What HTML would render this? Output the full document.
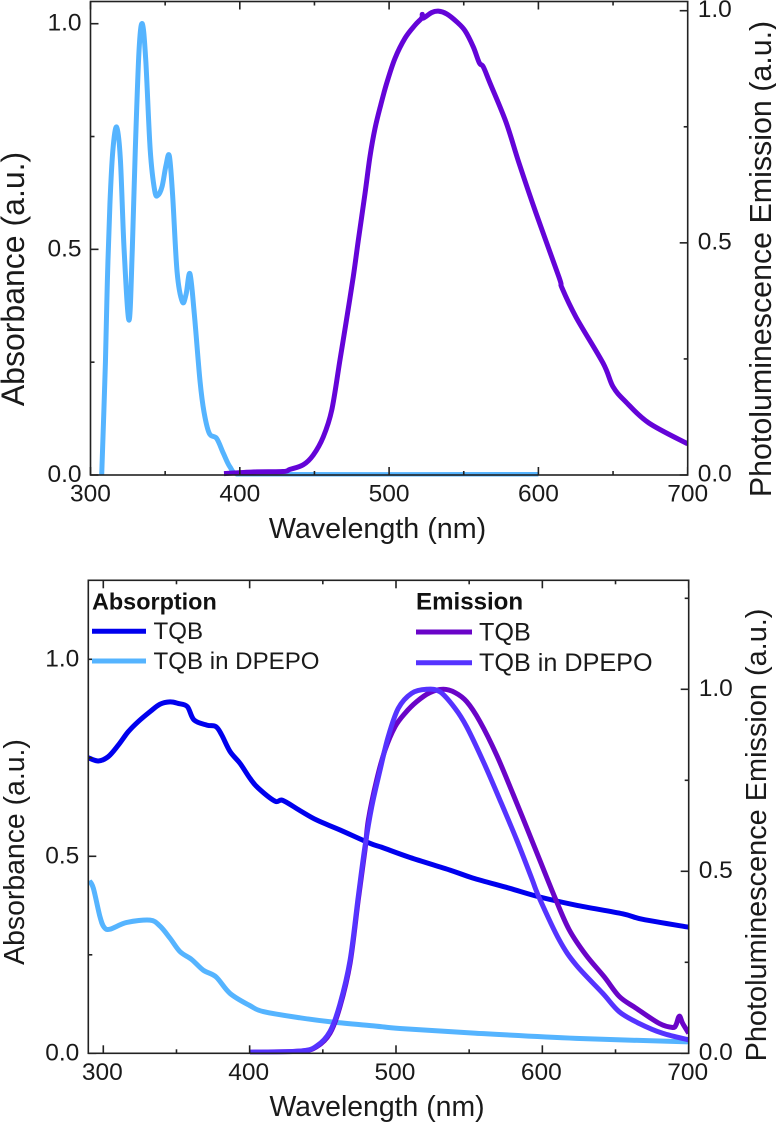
<!DOCTYPE html>
<html lang="en">
<head>
<meta charset="utf-8">
<title>TQB absorbance and photoluminescence spectra</title>
<style>
html,body{margin:0;padding:0;background:#fff;width:776px;height:1123px;overflow:hidden}
svg{display:block;font-family:"Liberation Sans",sans-serif;fill:#1a1a1a}
</style>
</head>
<body>
<svg id="fig" width="776" height="1123" viewBox="0 0 776 1123" xmlns="http://www.w3.org/2000/svg">
  <defs>
    <clipPath id="clipTop"><rect x="90.5" y="1.5" width="597.2" height="475"/></clipPath>
    <clipPath id="clipBot"><rect x="88.3" y="580.3" width="600.4" height="474"/></clipPath>
  </defs>
  <g id="top-marks" clip-path="url(#clipTop)"></g>
  <g id="bot-marks" clip-path="url(#clipBot)"></g>
  <g id="axes"></g>

  <text x="377.5" y="538" font-size="28.7" text-anchor="middle">Wavelength (nm)</text>
  <text transform="translate(24,279) rotate(-90)" font-size="32" text-anchor="middle">Absorbance (a.u.)</text>
  <text transform="translate(771,259) rotate(-90)" font-size="30.4" text-anchor="middle">Photoluminescence Emission (a.u.)</text>

  <text x="377" y="1116" font-size="28.4" text-anchor="middle">Wavelength (nm)</text>
  <text transform="translate(24,852) rotate(-90)" font-size="28.4" text-anchor="middle">Absorbance (a.u.)</text>
  <text transform="translate(766,835) rotate(-90)" font-size="28.9" text-anchor="middle">Photoluminescence Emission (a.u.)</text>

  <g>
    <text x="92" y="609.3" font-size="23.4" font-weight="bold" fill="#111">Absorption</text>
    <line x1="92" x2="146" y1="631.3" y2="631.3" stroke="#0000ee" stroke-width="5"/>
    <text x="153.5" y="639" font-size="24.1">TQB</text>
    <line x1="92" x2="146" y1="661" y2="661" stroke="#55b4ff" stroke-width="5"/>
    <text x="153.5" y="669" font-size="24.1">TQB in DPEPO</text>
  </g>
  <g>
    <text x="416" y="609.3" font-size="24.1" font-weight="bold" fill="#111">Emission</text>
    <line x1="416" x2="472" y1="632" y2="632" stroke="#6a04c8" stroke-width="5"/>
    <text x="479" y="640.7" font-size="25.2">TQB</text>
    <line x1="416" x2="472" y1="662.7" y2="662.7" stroke="#5533ff" stroke-width="5"/>
    <text x="479" y="671" font-size="25.2">TQB in DPEPO</text>
  </g>
</svg>
<script>
// ---- Tick values and labels ----
const xMajorTicks = [300, 400, 500, 600, 700];
const xMinorTicks = [350, 450, 550, 650];
const yMajorTicks = [0, 0.5, 1.0];
const yMinorTicks = [0.25, 0.75];
const yMinorTicksRightBottom = [0.25, 0.75, 1.25];

// ---- Top chart series ----
const topAbsNm = [307.5,310,311.3,313,315,317.5,320,322.5,325.8,328,330,332.5,334.7,337,340,343,345.2,348,350.5,352.8,355,358,361.5,364,366.6,369.5,373.3,376,379.6,384.5,389,393.4,399,420,600];
const topAbsValues = [0,0.25,0.43,0.6,0.72,0.771,0.70,0.5,0.343,0.5,0.72,0.94,1.0,0.92,0.72,0.63,0.62,0.64,0.685,0.707,0.62,0.45,0.384,0.40,0.446,0.358,0.21,0.14,0.092,0.081,0.048,0.018,0.002,0.001,0.001];
const topEmNm = [389.4,408.8,428.9,433.6,442.5,449.2,455.9,461.6,467.1,471.1,476.0,479.4,483.9,487.2,490.6,494.4,498.4,503.9,510.7,517.4,521.8,522.2,522.9,528.5,533,538.6,545.3,550.8,556.4,560.4,563.1,567.6,578.3,587,598.4,613.8,615.8,625.2,643.3,650,658.7,674,700];
const topEmValues = [0.003,0.0065,0.0075,0.012,0.022,0.043,0.082,0.14,0.248,0.327,0.427,0.506,0.607,0.686,0.747,0.797,0.844,0.897,0.941,0.969,0.984,0.992,0.984,0.996,0.999,0.993,0.976,0.957,0.922,0.888,0.879,0.844,0.760,0.672,0.564,0.426,0.403,0.340,0.241,0.190,0.157,0.112,0.067];

// ---- Bottom chart series ----
const botAbsTqbNm = [289.8,296.6,303.4,310.2,317,323.9,331.9,338.7,345.6,351.2,357.4,362,370.7,377,380.9,386.6,393.4,400.2,405.9,417.3,422.6,434.4,445.8,461.7,482.2,490.9,509.6,536.9,552.4,577.4,597.9,623,654.9,668.6,700];
const botAbsTqbValues = [0.75,0.742,0.753,0.782,0.816,0.842,0.867,0.886,0.892,0.888,0.880,0.846,0.833,0.829,0.808,0.766,0.736,0.698,0.673,0.640,0.642,0.616,0.592,0.567,0.533,0.522,0.497,0.465,0.445,0.419,0.397,0.376,0.354,0.340,0.320];
const botAbsDpepoNm = [290.4,293.2,297.7,300.5,304.6,316,331.9,338.7,345.6,352.4,360.4,368.3,377,386.6,400.2,409.3,434.4,457.2,486.3,502.7,554.6,623,700];
const botAbsDpepoValues = [0.438,0.419,0.347,0.32,0.315,0.332,0.338,0.323,0.292,0.258,0.238,0.211,0.194,0.152,0.121,0.106,0.090,0.079,0.069,0.063,0.051,0.038,0.029];
const botEmTqbNm = [400.2,434.4,445.8,454.9,461.7,468.6,474.2,478.8,481.1,486.8,492.5,499.3,506.1,514.1,523.2,532.3,540.3,548.3,557.4,568.8,580.2,589.3,598.4,609.3,618.4,629.8,642.3,652.6,664,679.9,689,691.3,693.6,695.9,700];
const botEmTqbValues = [0.003,0.006,0.018,0.055,0.128,0.247,0.421,0.558,0.641,0.751,0.833,0.897,0.934,0.966,0.991,1.0,0.991,0.966,0.911,0.819,0.71,0.62,0.529,0.421,0.339,0.270,0.210,0.156,0.124,0.082,0.071,0.078,0.102,0.082,0.055];
const botEmDpepoNm = [400.2,434.4,445.8,454.9,461.7,468.6,474.2,478.8,483.4,489.1,494.7,501.6,510.7,521,530.1,540.3,548.3,559.7,571,582.5,592.7,598,611.6,623,641.2,652.6,666.2,682.2,700];
const botEmDpepoValues = [0.003,0.006,0.02,0.06,0.135,0.255,0.43,0.568,0.677,0.778,0.870,0.948,0.989,1.0,0.993,0.948,0.897,0.801,0.696,0.586,0.481,0.426,0.311,0.243,0.165,0.114,0.082,0.055,0.037];

const NS = 'http://www.w3.org/2000/svg';

function scale(d0, d1, p0, p1) {
  return function (v) { return p0 + (v - d0) * (p1 - p0) / (d1 - d0); };
}

// Axis scales for both panels
const topX = scale(300, 700, 90.5, 687.7);
const topYL = scale(0, 1, 475, 23.7);
const topYR = scale(0, 1, 475, 10.7);
const botX = scale(300, 700, 103.3, 688.7);
const botYL = scale(0, 1, 1053.3, 659.3);
const botYR = scale(0, 1, 1053.3, 689.3);

function smoothPath(xs, ys, fx, fy) {
  const p = xs.map(function (x, i) { return [fx(x), fy(ys[i])]; });
  let d = 'M' + p[0][0].toFixed(2) + ' ' + p[0][1].toFixed(2);
  for (let i = 0; i < p.length - 1; i++) {
    const a = p[Math.max(i - 1, 0)], b = p[i], c = p[i + 1], e = p[Math.min(i + 2, p.length - 1)];
    const c1x = b[0] + (c[0] - a[0]) / 6, c1y = b[1] + (c[1] - a[1]) / 6;
    const c2x = c[0] - (e[0] - b[0]) / 6, c2y = c[1] - (e[1] - b[1]) / 6;
    d += 'C' + c1x.toFixed(2) + ' ' + c1y.toFixed(2) + ' ' + c2x.toFixed(2) + ' ' + c2y.toFixed(2) + ' ' + c[0].toFixed(2) + ' ' + c[1].toFixed(2);
  }
  return d;
}

function drawSeries(parentId, seriesName, xs, ys, fx, fy, color, width) {
  const el = document.createElementNS(NS, 'path');
  
  
  el.setAttribute('d', smoothPath(xs, ys, fx, fy));
  el.setAttribute('fill', 'none');
  el.setAttribute('stroke', color);
  el.setAttribute('stroke-width', width);
  el.setAttribute('stroke-linejoin', 'round');
  document.getElementById(parentId).appendChild(el);
}

drawSeries('top-marks', 'top-absorbance-line', topAbsNm, topAbsValues, topX, topYL, '#55b4ff', 5);
drawSeries('top-marks', 'top-emission-line', topEmNm, topEmValues, topX, topYR, '#6404d8', 5);
drawSeries('bot-marks', 'absorbance-dpepo-line', botAbsDpepoNm, botAbsDpepoValues, botX, botYL, '#55b4ff', 5);
drawSeries('bot-marks', 'absorbance-tqb-line', botAbsTqbNm, botAbsTqbValues, botX, botYL, '#0000ee', 5);
drawSeries('bot-marks', 'emission-tqb-line', botEmTqbNm, botEmTqbValues, botX, botYR, '#6a04c8', 5);
drawSeries('bot-marks', 'emission-dpepo-line', botEmDpepoNm, botEmDpepoValues, botX, botYR, '#5533ff', 5);

const axes = document.getElementById('axes');
const AXIS = '#222222';

function addLine(x1, y1, x2, y2, w) {
  const l = document.createElementNS(NS, 'line');
  
  
  l.setAttribute('x1', x1);
  l.setAttribute('y1', y1);
  l.setAttribute('x2', x2);
  l.setAttribute('y2', y2);
  l.setAttribute('stroke', AXIS);
  l.setAttribute('stroke-width', w);
  axes.appendChild(l);
}

function addLabel(str, x, y, anchor) {
  const t = document.createElementNS(NS, 'text');
  
  
  t.setAttribute('x', x);
  t.setAttribute('y', y);
  t.setAttribute('font-size', '24.5');
  t.setAttribute('text-anchor', anchor);
  t.textContent = str;
  axes.appendChild(t);
}

function drawPanel(o) {
  const fr = document.createElementNS(NS, 'rect');
  
  
  fr.setAttribute('x', o.left);
  fr.setAttribute('y', o.top);
  fr.setAttribute('width', o.right - o.left);
  fr.setAttribute('height', o.bottom - o.top);
  fr.setAttribute('fill', 'none');
  fr.setAttribute('stroke', AXIS);
  fr.setAttribute('stroke-width', 1.6);
  axes.appendChild(fr);

  xMajorTicks.forEach(function (v) {
    const x = o.fx(v);
    addLine(x, o.bottom, x, o.bottom - 8, 1.6);
    addLine(x, o.top, x, o.top + 8, 1.6);
    addLabel(String(v), x + o.xLabelShift, o.bottom + o.xLabelDrop, 'middle');
  });
  xMinorTicks.forEach(function (v) {
    const x = o.fx(v);
    addLine(x, o.bottom, x, o.bottom - 4, 1.6);
    addLine(x, o.top, x, o.top + 4, 1.6);
  });
  yMajorTicks.forEach(function (v) {
    addLine(o.left, o.fyL(v), o.left + 8, o.fyL(v), 1.6);
    addLine(o.right, o.fyR(v), o.right - 8, o.fyR(v), 1.6);
    addLabel(v.toFixed(1), o.left - 9, o.fyL(v) + 7, 'end');
    addLabel(v.toFixed(1), o.right + 10, o.fyR(v) + 6.5, 'start');
  });
  yMinorTicks.forEach(function (v) {
    addLine(o.left, o.fyL(v), o.left + 4, o.fyL(v), 1.6);
  });
  o.rightMinor.forEach(function (v) {
    addLine(o.right, o.fyR(v), o.right - 4, o.fyR(v), 1.6);
  });
}

drawPanel({left: 90.5, right: 687.7, top: 1.5, bottom: 475, fx: topX, fyL: topYL, fyR: topYR, rightMinor: yMinorTicks, xLabelShift: 0, xLabelDrop: 26.7});
drawPanel({left: 88.3, right: 688.7, top: 580.3, bottom: 1053.3, fx: botX, fyL: botYL, fyR: botYR, rightMinor: yMinorTicksRightBottom, xLabelShift: -1, xLabelDrop: 26.7});
</script>
</body>
</html>
